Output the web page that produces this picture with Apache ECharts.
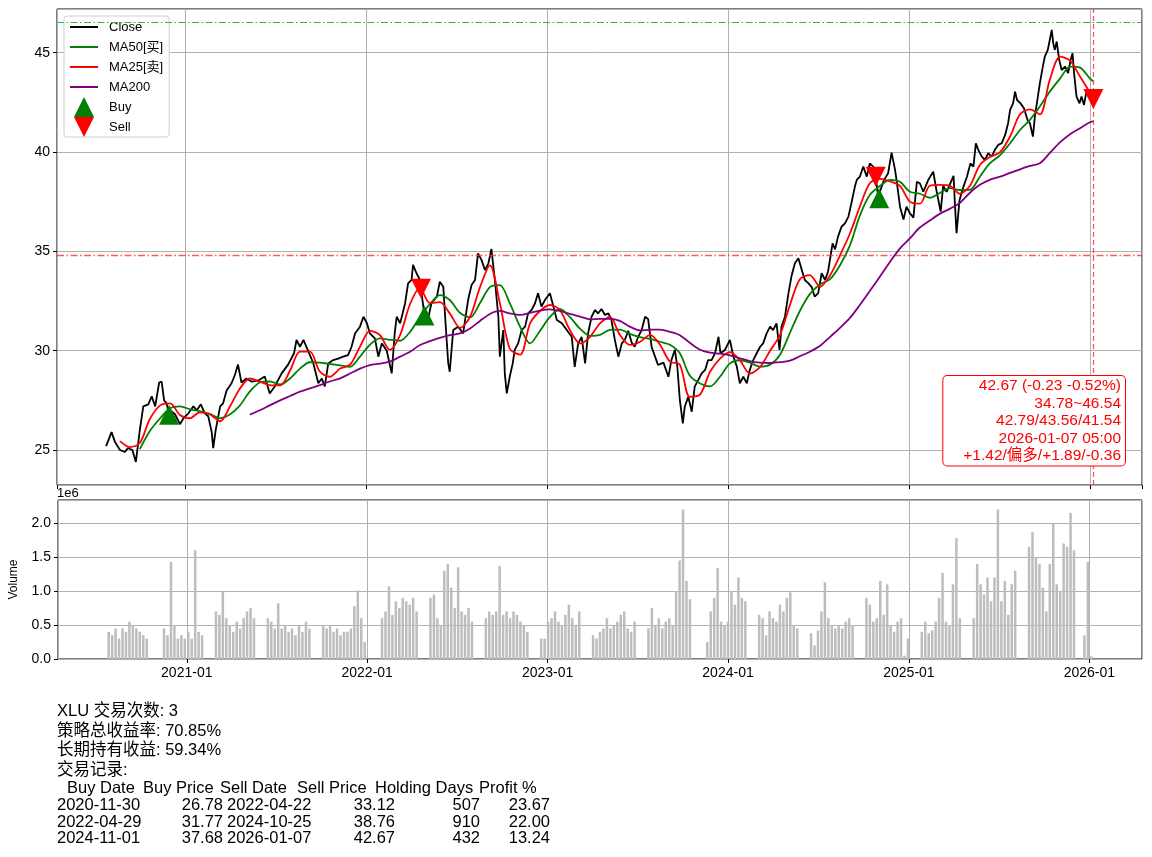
<!DOCTYPE html>
<html><head><meta charset="utf-8">
<script src="https://cdn.jsdelivr.net/npm/echarts@6/dist/echarts.min.js"></script>
<style>html,body{margin:0;padding:0;background:#fff}#c{width:1152px;height:857px}</style>
</head><body><div id="c"></div>
<script>
// ---------------- data ----------------
const closeData = [
['2020-07-26',25.2],['2020-08-06',25.9],['2020-08-13',25.4],['2020-08-23',25.0],['2020-09-02',24.9],['2020-09-08',25.1],['2020-09-17',25.0],['2020-09-24',24.4],['2020-09-28',25.2],['2020-10-02',26.0],['2020-10-09',27.2],['2020-10-19',27.3],['2020-10-26',27.7],['2020-11-02',27.2],['2020-11-10',28.4],['2020-11-15',28.44],['2020-11-20',27.5],['2020-11-25',27.35],['2020-11-30',26.78],['2020-12-02',27.0],['2020-12-12',26.8],['2020-12-22',26.3],['2020-12-29',26.6],
['2021-01-08',26.85],['2021-01-18',27.2],['2021-01-25',27.0],['2021-02-02',27.3],['2021-02-10',26.85],['2021-02-17',26.7],['2021-02-24',25.9],['2021-02-27',25.1],['2021-03-04',26.0],['2021-03-13',27.2],['2021-03-19',27.35],['2021-03-26',28.0],['2021-04-05',28.36],['2021-04-12',28.8],['2021-04-18',29.3],['2021-04-25',28.4],['2021-05-05',28.6],['2021-05-16',28.44],['2021-05-29',28.5],['2021-06-11',28.7],['2021-06-21',27.85],['2021-07-01',28.2],['2021-07-15',28.86],['2021-07-28',29.3],['2021-08-09',29.87],['2021-08-14',30.54],['2021-08-21',30.2],['2021-08-28',30.54],['2021-09-07',29.95],['2021-09-17',29.36],['2021-09-27',28.36],['2021-10-04',28.6],['2021-10-10',28.2],['2021-10-17',29.36],['2021-10-27',29.53],['2021-11-06',29.6],['2021-11-16',29.7],['2021-11-26',29.78],['2021-12-03',30.2],['2021-12-10',30.87],['2021-12-20',31.21],['2021-12-27',31.71],
['2022-01-03',31.38],['2022-01-09',30.87],['2022-01-19',30.62],['2022-01-26',29.7],['2022-02-02',30.37],['2022-02-12',30.0],['2022-02-22',28.86],['2022-02-28',30.87],['2022-03-04',31.71],['2022-03-11',31.38],['2022-03-21',32.39],['2022-03-27',33.39],['2022-04-03',33.56],['2022-04-06',34.32],['2022-04-13',33.9],['2022-04-20',33.56],['2022-04-22',33.12],['2022-04-29',31.77],['2022-05-06',31.55],['2022-05-13',32.39],['2022-05-24',32.72],['2022-05-30',33.47],['2022-06-06',33.22],['2022-06-11',31.21],['2022-06-16',29.36],['2022-06-19',28.94],['2022-06-26',31.04],['2022-07-06',31.21],['2022-07-16',30.87],['2022-07-26',32.55],['2022-08-02',33.31],['2022-08-09',33.56],['2022-08-15',34.9],['2022-08-22',34.57],['2022-08-29',34.06],['2022-09-05',34.4],['2022-09-11',35.12],['2022-09-18',33.56],['2022-09-25',31.71],['2022-09-28',29.7],['2022-10-05',31.04],['2022-10-08',28.86],['2022-10-12',27.85],['2022-10-18',28.69],['2022-10-24',29.36],['2022-10-28',30.04],['2022-11-04',30.37],['2022-11-11',31.04],['2022-11-18',31.21],['2022-11-24',31.88],['2022-12-01',32.05],['2022-12-08',32.39],['2022-12-14',32.89],['2022-12-21',32.22],['2022-12-28',32.55],
['2023-01-07',32.89],['2023-01-14',32.22],['2023-01-21',31.55],['2023-01-31',31.38],['2023-02-10',31.04],['2023-02-20',30.7],['2023-02-26',29.19],['2023-03-05',30.37],['2023-03-12',30.7],['2023-03-19',29.36],['2023-03-25',30.87],['2023-04-01',31.71],['2023-04-08',32.05],['2023-04-14',31.88],['2023-04-21',32.1],['2023-04-28',31.8],['2023-05-05',31.88],['2023-05-11',31.55],['2023-05-18',30.54],['2023-05-25',29.7],['2023-06-01',30.37],['2023-06-07',30.54],['2023-06-14',31.0],['2023-06-21',30.4],['2023-06-27',30.2],['2023-07-04',30.7],['2023-07-11',31.04],['2023-07-18',31.71],['2023-07-24',31.6],['2023-07-31',30.2],['2023-08-07',29.7],['2023-08-13',29.28],['2023-08-24',29.4],['2023-09-03',28.69],['2023-09-09',29.53],['2023-09-16',30.04],['2023-09-21',29.19],['2023-09-26',27.52],['2023-10-02',26.34],['2023-10-06',27.18],['2023-10-13',27.68],['2023-10-20',26.93],['2023-10-26',28.19],['2023-11-02',28.52],['2023-11-09',28.86],['2023-11-16',29.03],['2023-11-22',29.53],['2023-11-29',29.53],['2023-12-06',29.87],['2023-12-13',30.7],['2023-12-17',29.87],['2023-12-26',30.04],
['2024-01-05',30.54],['2024-01-12',29.7],['2024-01-19',29.19],['2024-01-25',28.36],['2024-02-01',28.69],['2024-02-08',28.36],['2024-02-14',29.03],['2024-02-21',29.53],['2024-02-28',29.87],['2024-03-06',30.2],['2024-03-12',30.37],['2024-03-19',30.87],['2024-03-26',31.21],['2024-04-01',31.04],['2024-04-08',31.38],['2024-04-14',30.04],['2024-04-18',31.21],['2024-04-25',31.71],['2024-05-02',32.89],['2024-05-08',33.73],['2024-05-15',34.4],['2024-05-22',34.65],['2024-05-29',34.06],['2024-06-04',33.56],['2024-06-11',33.4],['2024-06-18',33.2],['2024-06-24',32.72],['2024-07-01',32.9],['2024-07-08',33.9],['2024-07-15',33.56],['2024-07-21',34.0],['2024-07-30',35.4],['2024-08-04',35.1],['2024-08-10',35.74],['2024-08-17',36.24],['2024-08-24',36.41],['2024-08-31',36.75],['2024-09-06',37.42],['2024-09-13',38.26],['2024-09-17',38.6],['2024-09-23',38.76],['2024-09-30',39.27],['2024-10-07',38.76],['2024-10-13',39.43],['2024-10-20',39.27],['2024-10-25',38.76],['2024-10-30',37.75],['2024-11-01',37.68],['2024-11-06',38.26],['2024-11-11',38.6],['2024-11-19',38.93],['2024-11-26',39.97],['2024-12-03',39.1],['2024-12-06',38.6],['2024-12-13',37.25],['2024-12-20',36.6],['2024-12-26',37.25],
['2025-01-02',36.92],['2025-01-09',36.7],['2025-01-16',38.5],['2025-01-22',38.43],['2025-01-29',38.0],['2025-02-08',38.6],['2025-02-18',39.01],['2025-02-25',38.0],['2025-03-05',37.0],['2025-03-10',38.3],['2025-03-17',38.0],['2025-03-24',38.4],['2025-03-31',38.8],['2025-04-03',37.25],['2025-04-06',35.91],['2025-04-12',37.59],['2025-04-20',38.26],['2025-04-27',38.76],['2025-05-04',39.43],['2025-05-10',39.27],['2025-05-15',40.44],['2025-05-20',40.1],['2025-05-27',39.77],['2025-06-02',39.6],['2025-06-09',39.94],['2025-06-16',39.77],['2025-06-22',40.1],['2025-06-29',40.36],['2025-07-06',40.44],['2025-07-13',40.86],['2025-07-19',41.45],['2025-07-23',42.12],['2025-07-29',42.45],['2025-08-02',43.04],['2025-08-06',42.62],['2025-08-13',42.45],['2025-08-20',42.2],['2025-08-27',41.62],['2025-09-01',41.45],['2025-09-07',40.78],['2025-09-11',41.79],['2025-09-16',42.62],['2025-09-21',43.46],['2025-09-27',44.3],['2025-10-01',44.8],['2025-10-07',45.14],['2025-10-11',45.64],['2025-10-15',46.15],['2025-10-18',45.47],['2025-10-21',45.14],['2025-10-25',45.56],['2025-10-30',44.64],['2025-11-04',44.13],['2025-11-11',44.3],['2025-11-17',43.97],['2025-11-22',44.64],['2025-11-26',44.97],['2025-11-29',43.97],['2025-12-04',42.79],['2025-12-10',42.45],['2025-12-14',42.79],['2025-12-19',42.37],['2025-12-24',43.04],['2025-12-30',42.9],['2026-01-07',42.67]
];

const maDates = ['2020-08-23','2020-09-12','2020-10-02','2020-10-22','2020-11-12','2020-12-02','2020-12-22','2021-01-11','2021-01-31','2021-02-20',
'2021-03-13','2021-04-02','2021-04-22','2021-05-12','2021-06-01','2021-06-21','2021-07-12','2021-08-01','2021-08-21','2021-09-10',
'2021-09-30','2021-10-20','2021-11-10','2021-11-30','2021-12-20','2022-01-09','2022-01-29','2022-02-18','2022-03-11','2022-03-31',
'2022-04-20','2022-05-10','2022-05-30','2022-06-19','2022-07-10','2022-07-30','2022-08-19','2022-09-08','2022-09-28','2022-10-18',
'2022-11-08','2022-11-28','2022-12-18','2023-01-07','2023-01-27','2023-02-16','2023-03-09','2023-03-29','2023-04-18','2023-05-08',
'2023-05-28','2023-06-17','2023-07-08','2023-07-28','2023-08-17','2023-09-06','2023-09-26','2023-10-16','2023-11-06','2023-11-26',
'2023-12-16','2024-01-05','2024-01-25','2024-02-14','2024-03-06','2024-03-26','2024-04-15','2024-05-05','2024-05-25','2024-06-14',
'2024-07-05','2024-07-25','2024-08-14','2024-09-03','2024-09-23','2024-10-13','2024-11-03','2024-11-23','2024-12-13','2025-01-02',
'2025-01-22','2025-02-11','2025-03-04','2025-03-24','2025-04-13','2025-05-03','2025-05-23','2025-06-12','2025-07-03','2025-07-23',
'2025-08-12','2025-09-01','2025-09-21','2025-10-11','2025-11-01','2025-11-21','2025-12-11','2025-12-31','2026-01-07'];

const ma25 = [25.45,25.15,25.35,26.55,27.25,27.35,26.76,26.6,26.9,26.8,
26.45,27.2,28.1,28.6,28.44,28.27,28.25,29.0,29.95,29.95,
28.95,28.69,29.1,29.3,30.2,31.0,30.79,30.05,30.8,32.35,
33.15,32.39,32.45,31.88,31.15,31.71,33.2,34.3,32.4,30.1,
29.8,31.38,32.0,32.3,32.05,31.05,30.37,30.7,31.38,31.7,
30.8,30.29,30.45,30.8,30.3,29.45,29.3,27.68,27.8,28.94,
29.6,29.93,29.53,28.85,29.19,30.0,30.79,32.3,33.6,33.8,
33.22,33.8,34.8,35.9,37.25,38.43,38.65,38.52,38.3,37.5,
37.4,38.3,38.35,38.3,37.9,38.3,39.35,39.75,40.0,40.78,
41.9,42.15,41.9,43.63,44.8,44.6,43.8,43.0,42.79];

const ma50 = [null,null,25.05,25.95,26.6,27.1,27.2,27.05,26.95,26.82,
26.6,26.8,27.25,27.95,28.4,28.45,28.3,28.6,29.1,29.42,
29.4,29.33,29.26,29.19,29.7,30.3,30.62,30.55,30.5,30.95,
31.7,32.35,32.8,32.55,31.9,31.68,32.4,33.2,33.3,32.39,
31.2,30.37,31.0,31.7,32.1,31.7,31.1,30.75,30.8,31.05,
31.06,30.85,30.68,30.6,30.45,30.3,29.87,28.75,28.35,28.2,
28.69,29.36,29.52,29.4,29.2,29.3,29.8,30.9,32.0,32.85,
33.35,33.6,34.3,35.3,36.8,37.84,38.3,38.6,38.5,38.0,
37.9,37.7,37.95,38.18,38.09,38.1,38.76,39.43,39.85,40.44,
41.11,41.62,42.29,43.04,43.71,44.3,44.25,43.7,43.56];

const ma200 = [null,null,null,null,null,null,null,null,null,null,
null,null,null,26.78,27.0,27.25,27.5,27.72,27.94,28.1,
28.27,28.45,28.61,28.85,29.1,29.28,29.35,29.45,29.7,29.95,
30.29,30.48,30.65,30.78,30.87,31.12,31.5,31.85,32.0,31.88,
31.8,31.9,32.02,32.08,32.0,31.85,31.72,31.58,31.6,31.6,
31.5,31.21,31.02,31.06,31.06,30.95,30.78,30.4,30.05,29.9,
29.85,29.77,29.62,29.48,29.4,29.38,29.42,29.5,29.72,29.95,
30.25,30.7,31.15,31.65,32.3,33.0,33.75,34.48,35.15,35.65,
36.2,36.55,36.9,37.15,37.45,37.95,38.35,38.6,38.76,38.95,
39.13,39.3,39.43,39.95,40.5,40.9,41.2,41.5,41.54];

// weekly volume (millions), first week starting 2020-07-27; 0 = no data
const volStart = '2020-07-27';
const volume = [
0.4,0.35,0.45,0.3,0.45,0.4,0.55,0.5,0.45,0.4,0.35,0.3, 0,0,0,0,
0.45,0.35,1.43,0.5,0.3,0.35,0.3,0.4,0.3,1.6,0.4,0.35, 0,0,0,
0.7,0.65,0.99,0.6,0.5,0.4,0.55,0.45,0.6,0.7,0.75,0.6, 0,0,0,
0.6,0.55,0.45,0.82,0.45,0.5,0.4,0.45,0.35,0.5,0.4,0.55,0.45, 0,0,0,
0.5,0.45,0.5,0.4,0.45,0.35,0.4,0.4,0.45,0.78,1.01,0.6,0.25, 0,0,0,0,
0.6,0.7,1.07,0.65,0.85,0.75,0.9,0.85,0.8,0.9,0.7, 0,0,0,
0.9,0.95,0.6,0.5,1.3,1.4,1.05,0.75,1.35,0.7,0.65,0.75,0.55, 0,0,0,
0.6,0.7,0.65,0.7,1.37,0.65,0.7,0.6,0.7,0.65,0.55,0.5,0.4, 0,0,0,
0.3,0.3,0.55,0.6,0.7,0.55,0.5,0.65,0.8,0.6,0.5,0.7, 0,0,0,
0.35,0.3,0.4,0.45,0.6,0.45,0.5,0.55,0.65,0.7,0.45,0.4,0.55, 0,0,0,
0.45,0.75,0.5,0.6,0.45,0.55,0.6,0.5,1.0,1.45,2.2,1.15,0.88, 0,0,0,0,
0.25,0.7,0.9,1.34,0.55,0.5,0.55,1.0,0.8,1.2,0.9,0.85, 0,0,0,
0.65,0.6,0.35,0.7,0.6,0.55,0.8,0.7,0.9,0.98,0.5,0.45, 0,0,0,
0.38,0.2,0.42,0.7,1.13,0.6,0.5,0.45,0.5,0.45,0.55,0.6,0.5, 0,0,0,
0.9,0.8,0.55,0.6,1.15,0.65,1.1,0.5,0.4,0.55,0.6,0.05,0.3, 0,0,0,
0.4,0.55,0.38,0.42,0.55,0.9,1.27,0.55,0.5,1.1,1.78,0.6, 0,0,0,
0.6,1.4,1.1,0.95,1.2,0.85,1.2,2.2,0.85,1.15,0.65,1.1,1.3, 0,0,0,
1.65,1.87,1.5,1.4,1.05,0.7,1.4,2.0,1.1,1.0,1.7,1.65,2.15,1.6, 0,0,
0.35,1.43,0.04];

const buyDates = ['2020-11-30','2022-04-29','2024-11-01'];
const buyPrices = [26.78, 31.77, 37.68];
const sellDates = ['2022-04-22','2024-10-25','2026-01-07'];
const sellPrices = [33.12, 38.76, 42.67];
const holdDays = [507, 910, 432];
const profits = ['23.67', '22.00', '13.24'];

const rangeLow = 34.78, rangeHigh = 46.54;
const lastDate = '2026-01-07';
const infoLines = ['42.67 (-0.23 -0.52%)', '34.78~46.54', '42.79/43.56/41.54', '2026-01-07 05:00', '+1.42/偏多/+1.89/-0.36'];
const summaryLines = ['XLU 交易次数: 3', '策略总收益率: 70.85%', '长期持有收益: 59.34%', '交易记录:'];
const tableHeader = ['Buy Date', 'Buy Price', 'Sell Date', 'Sell Price', 'Holding Days', 'Profit %'];

// ---------------- chart ----------------
const FONT = "'Liberation Sans', 'Noto Sans CJK SC', sans-serif";
const DAY = 86400000, YEAR = 365 * DAY;
const DOWN = 'path://M0,0L10,0L5,10Z';
const UP = 'path://M5,0L10,10L0,10Z';
const LINEICON = 'path://M14,-10L14.01,-10L14,-9.99Z M0,-1.1H28V1.1H0Z M14,10L14.01,10L14,9.99Z';
const v0 = new Date(volStart + 'T00:00:00').getTime();
const volData = volume.map((v, i) => [v0 + i * 7 * DAY, v]).filter(p => p[1] > 0);
const maSeries = arr => maDates.map((d, i) => [d, arr[i]]).filter(p => p[1] != null);

const GRID = '#b0b0b0';
function xAx(idx, showLabel) {
  return {
    type: 'time', gridIndex: idx, min: '2020-04-18', max: '2026-04-15',
    minInterval: YEAR, maxInterval: YEAR, splitNumber: 6,
    axisLine: { show: false },
    axisTick: { show: true, length: 4, lineStyle: { color: '#000' } },
    axisLabel: { show: showLabel, formatter: '{yyyy}-{MM}', color: '#000', fontSize: 14, margin: 7, fontFamily: FONT },
    splitLine: { show: true, lineStyle: { color: GRID, width: 1 } }
  };
}
const hideML = { silent: true, symbol: ['none', 'none'], label: { show: false }, animation: false };

const graphics = [];
graphics.push({ type: 'text', x: 57, y: 493, style: { text: '1e6', font: '13px ' + FONT, fill: '#000', verticalAlign: 'middle' } });
graphics.push({ type: 'text', x: 1125, y: 376, z: 100, style: {
  text: infoLines.join('\n'), align: 'right', verticalAlign: 'top', fill: '#ff0000',
  font: '15.5px ' + FONT, lineHeight: 17.5, backgroundColor: '#fff', borderColor: '#ff0000',
  borderWidth: 1, borderRadius: 4, padding: [1, 4, 1, 20] } });
const lineYs = [711, 731, 750.5, 770];
summaryLines.forEach((t, i) => graphics.push({ type: 'text', x: 57, y: lineYs[i], style: { text: t, font: '16.5px ' + FONT, fill: '#000', verticalAlign: 'middle' } }));
const headX = [67, 143, 220, 297, 375, 479];
tableHeader.forEach((t, i) => graphics.push({ type: 'text', x: headX[i], y: 788, style: { text: t, font: '16.5px ' + FONT, fill: '#000', verticalAlign: 'middle' } }));
const rowYs = [805, 822, 838.5];
buyDates.forEach((d, i) => {
  const y = rowYs[i];
  const cells = [[d, 57, 'left'], [buyPrices[i].toFixed(2), 223, 'right'], [sellDates[i], 227, 'left'],
    [sellPrices[i].toFixed(2), 395, 'right'], [String(holdDays[i]), 480, 'right'], [profits[i], 550, 'right']];
  cells.forEach(c => graphics.push({ type: 'text', x: c[1], y: y, style: { text: c[0], align: c[2], verticalAlign: 'middle', font: '16.5px ' + FONT, fill: '#000' } }));
});

const option = {
  animation: false,
  backgroundColor: '#fff',
  textStyle: { fontFamily: FONT },
  grid: [
    { left: 57, top: 9, width: 1085, height: 476, show: true, borderColor: '#000', borderWidth: 1 },
    { left: 57, top: 500, width: 1085, height: 159, show: true, borderColor: '#000', borderWidth: 1 }
  ],
  legend: {
    data: [{ name: 'Close', icon: LINEICON }, { name: 'MA50[买]', icon: LINEICON }, { name: 'MA25[卖]', icon: LINEICON },
           { name: 'MA200', icon: LINEICON }, { name: 'Buy', icon: UP }, { name: 'Sell', icon: DOWN }],
    orient: 'vertical', left: 64, top: 16, itemWidth: 28, itemHeight: 20, itemGap: 0,
    backgroundColor: '#fff', borderColor: '#d0d0d0', borderWidth: 1, borderRadius: 3, padding: [1, 6, 0, 6],
    textStyle: { fontSize: 13, color: '#000', fontFamily: FONT, padding: [0, 0, 0, 6] }
  },
  xAxis: [xAx(0, false), xAx(1, true)],
  yAxis: [
    { type: 'value', gridIndex: 0, min: 23.24, max: 47.2, splitNumber: 5,
      axisLine: { show: false }, axisTick: { show: true, length: 4, lineStyle: { color: '#000' } },
      axisLabel: { color: '#000', fontSize: 14, margin: 7, fontFamily: FONT, showMinLabel: false, showMaxLabel: false },
      splitLine: { show: true, lineStyle: { color: GRID, width: 1 } } },
    { type: 'value', gridIndex: 1, min: 0, max: 2.34, interval: 0.5,
      name: 'Volume', nameLocation: 'middle', nameGap: 38, nameTextStyle: { fontSize: 12, color: '#000', fontFamily: FONT },
      axisLine: { show: false }, axisTick: { show: true, length: 4, lineStyle: { color: '#000' } },
      axisLabel: { color: '#000', fontSize: 14, margin: 7, fontFamily: FONT, showMaxLabel: false, formatter: v => v.toFixed(1) },
      splitLine: { show: true, lineStyle: { color: GRID, width: 1 } } }
  ],
  series: [
    { name: 'Close', type: 'line', xAxisIndex: 0, yAxisIndex: 0, data: closeData, symbol: 'none',
      lineStyle: { color: '#000', width: 1.8 }, itemStyle: { color: '#000' }, z: 2 },
    { name: 'MA50[买]', type: 'line', xAxisIndex: 0, yAxisIndex: 0, data: maSeries(ma50), symbol: 'none', smooth: 0.3,
      lineStyle: { color: '#008000', width: 1.8 }, itemStyle: { color: '#008000' }, z: 3,
      markLine: Object.assign({}, hideML, { lineStyle: { color: '#3cb43c', width: 1.1, type: [7, 2.5, 1.5, 2.5] },
        data: [{ yAxis: rangeHigh }] }) },
    { name: 'MA25[卖]', type: 'line', xAxisIndex: 0, yAxisIndex: 0, data: maSeries(ma25), symbol: 'none', smooth: 0.3,
      lineStyle: { color: '#ff0000', width: 1.8 }, itemStyle: { color: '#ff0000' }, z: 4,
      markLine: Object.assign({}, hideML, { lineStyle: { color: '#ff3030', opacity: 0.8, width: 1.3, type: [7, 2.5, 1.5, 2.5] },
        data: [{ yAxis: rangeLow }, { xAxis: lastDate, lineStyle: { color: '#ff3030', opacity: 0.8, width: 1.3, type: [5, 3] } }] }) },
    { name: 'MA200', type: 'line', xAxisIndex: 0, yAxisIndex: 0, data: maSeries(ma200), symbol: 'none', smooth: 0.3,
      lineStyle: { color: '#800080', width: 1.8 }, itemStyle: { color: '#800080' }, z: 5 },
    { name: 'Buy', type: 'scatter', xAxisIndex: 0, yAxisIndex: 0, data: buyDates.map((d, i) => [d, buyPrices[i]]),
      symbol: UP, symbolSize: 20, itemStyle: { color: '#008000', opacity: 1 }, z: 6 },
    { name: 'Sell', type: 'scatter', xAxisIndex: 0, yAxisIndex: 0, data: sellDates.map((d, i) => [d, sellPrices[i]]),
      symbol: DOWN, symbolSize: 20, itemStyle: { color: '#ff0000', opacity: 1 }, z: 7 },
    { name: 'Volume', type: 'bar', xAxisIndex: 1, yAxisIndex: 1, data: volData, barWidth: 2.5,
      itemStyle: { color: '#bdbdbd' }, z: 2 }
  ],
  graphic: graphics
};
const chart = echarts.init(document.getElementById('c'), null, { renderer: 'canvas' });
chart.setOption(option);
</script>
</body></html>
